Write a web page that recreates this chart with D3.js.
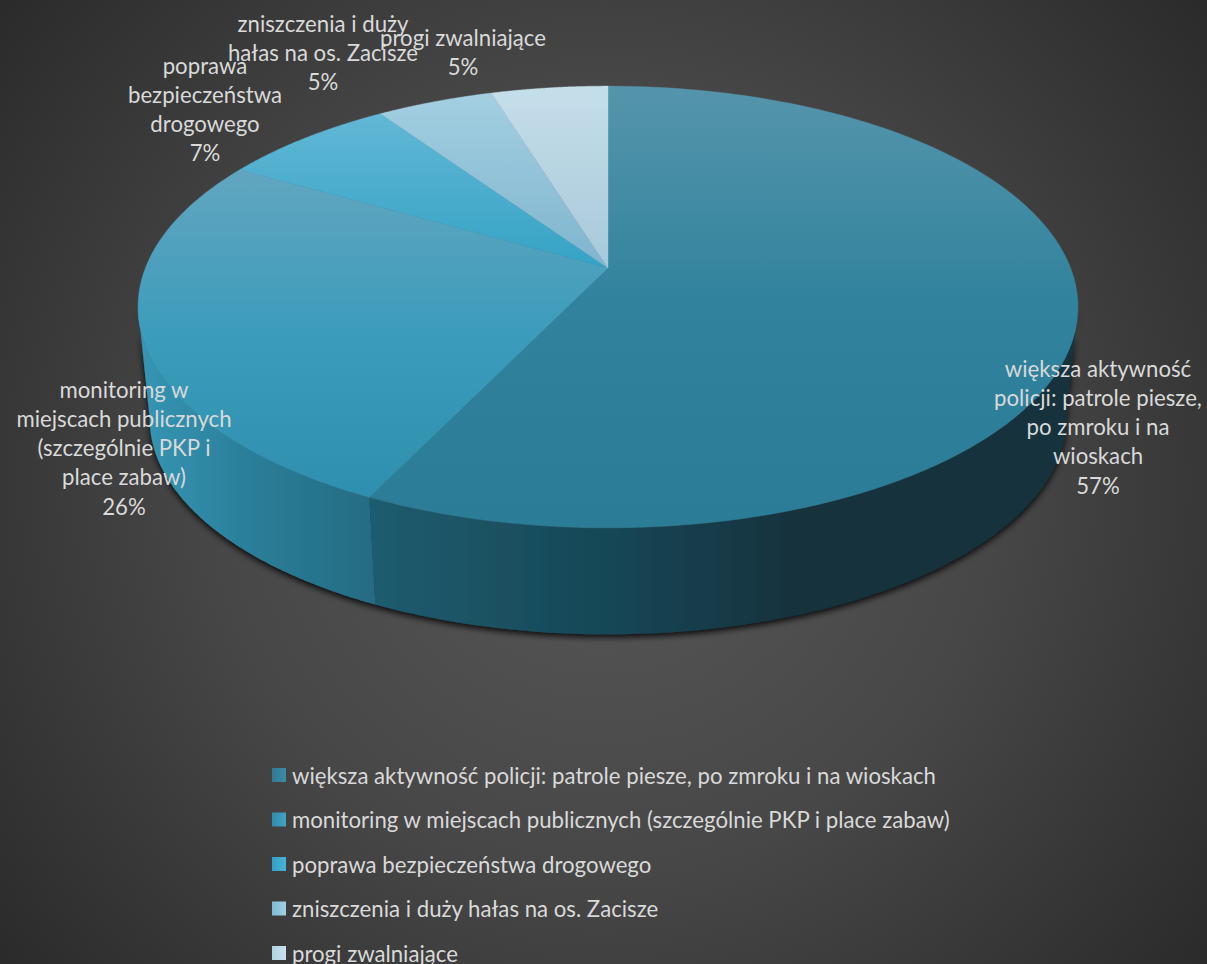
<!DOCTYPE html>
<html><head><meta charset="utf-8">
<script src="https://cdn.jsdelivr.net/npm/d3@7"></script>
<style>html,body{margin:0;padding:0;background:#333;overflow:hidden}svg{display:block}text{font-family:Lato,"Open Sans",sans-serif;fill:#d9d9d9}</style>
</head><body><script>
const categories=["większa aktywność policji: patrole piesze, po zmroku i na wioskach","monitoring w miejscach publicznych (szczególnie PKP i place zabaw)","poprawa bezpieczeństwa drogowego","zniszczenia i duży hałas na os. Zacisze","progi zwalniające"];
const counts=[24,11,3,2,2];
const labelLines=[["większa aktywność","policji: patrole piesze,","po zmroku i na","wioskach"],["monitoring w","miejscach publicznych","(szczególnie PKP i","place zabaw)"],["poprawa","bezpieczeństwa","drogowego"],["zniszczenia i duży","hałas na os. Zacisze"],["progi zwalniające"]];
const topColors=[["#5595ab","#30829d","#2b7c96"],["#62a6c0","#3c9cbb","#2e90ae"],["#62b7d5","#35a3c5"],["#a3cfe1","#7fb5ce"],["#c5dfea","#a8c8d9"]];
const sideStops=[[[0,"#1f5c6f"],[.32,"#174858"],[.6,"#12323d"],[1,"#12323d"]],[[0,"#3596b4"],[.5,"#2a7d98"],[1,"#256b82"]]];
const swatchColors=[["#2e7a92","#3a8ca8"],["#2f8cab","#43a3c3"],["#2fa0c4","#4ab3d6"],["#7dbbd4","#9fd0e3"],["#b0d3e3","#c8e2ee"]];
const labelAnchors=[[1098,368],[124,389],[205,65],[323,23],[463,37]];
const labelLineHeight=29.3;
const fontSize=22.2;

const W=1207,H=964,cx=608,cyTop=268,cyBot=381,A=462.6,B=214,k=0.1765,s=0.975;
const frontFrom=100.2*Math.PI/180,frontTo=259.8*Math.PI/180;
const svg=d3.select("body").append("svg").attr("width",W).attr("height",H);
const defs=svg.append("defs");
const bg=defs.append("radialGradient").attr("id","bg").attr("gradientUnits","userSpaceOnUse").attr("cx",W/2).attr("cy",H/2).attr("r",780);
bg.append("stop").attr("offset",0).attr("stop-color","#585858");
bg.append("stop").attr("offset",.5).attr("stop-color","#474747");
bg.append("stop").attr("offset",1).attr("stop-color","#2a2a2a");
svg.append("rect").attr("width",W).attr("height",H).attr("fill","url(#bg)");
const f=defs.append("filter").attr("id","sh").attr("x","-5%").attr("y","-5%").attr("width","110%").attr("height","115%");
f.append("feDropShadow").attr("dx",0).attr("dy",3).attr("stdDeviation",3).attr("flood-color","#000").attr("flood-opacity",.85);

const pie=d3.pie().sort(null).value(d=>d).startAngle(0).endAngle(2*Math.PI);
const arcs=pie(counts);
const total=d3.sum(counts);
const proj=(t,scale,cy)=>{const u=Math.sin(t),v=Math.cos(t),w=1+k*v;return [cx+scale*A*u/w,cy-scale*B*v/w];};
const line=d3.line();
const samples=(a,b)=>d3.range(0,121).map(i=>a+(b-a)*i/120);

arcs.forEach((d,i)=>{
  const g=defs.append("linearGradient").attr("id","top"+i).attr("x1",0).attr("y1",0).attr("x2",0).attr("y2",1);
  topColors[i].forEach((c,j,arr)=>g.append("stop").attr("offset",j/(arr.length-1)).attr("stop-color",c));
  const sw=defs.append("linearGradient").attr("id","sw"+i).attr("x1",0).attr("y1",0).attr("x2",1).attr("y2",0);
  swatchColors[i].forEach((c,j,arr)=>sw.append("stop").attr("offset",j/(arr.length-1)).attr("stop-color",c));
});
sideStops.forEach((st,i)=>{
  const h=defs.append("linearGradient").attr("id","side"+i).attr("x1",0).attr("y1",0).attr("x2",1).attr("y2",0);
  st.forEach(([o,c])=>h.append("stop").attr("offset",o).attr("stop-color",c));
});

// sides: only the front part of the rim is visible
const frontArcs=arcs.filter(d=>d.startAngle<frontTo && d.endAngle>frontFrom).map(d=>({a:Math.max(d.startAngle,frontFrom),b:Math.min(d.endAngle,frontTo)}));
const sides=svg.append("g").attr("filter","url(#sh)");
sides.selectAll("path").data(frontArcs).join("path")
  .attr("d",d=>{const ts=samples(d.a,d.b);
    return line(ts.map(t=>proj(t,1,cyTop)).concat(ts.slice().reverse().map(t=>proj(t,s,cyBot))))+"Z";})
  .attr("fill",(d,i)=>`url(#side${i})`);
// top face
svg.append("g").selectAll("path").data(arcs).join("path")
  .attr("d",d=>line([[cx,cyTop]].concat(samples(d.startAngle,d.endAngle).map(t=>proj(t,1,cyTop))))+"Z")
  .attr("fill",(d,i)=>`url(#top${i})`).attr("stroke",(d,i)=>`url(#top${i})`).attr("stroke-width",.4);
// data labels
const lab=svg.append("g").attr("font-size",fontSize).attr("text-anchor","middle");
arcs.forEach((d,i)=>{
  const g=lab.append("text").attr("transform",`translate(${labelAnchors[i]})`);
  const lines=labelLines[i].concat(d3.format(".0%")(d.value/total));
  lines.forEach((t,j)=>g.append("tspan").attr("x",0).attr("y",j*labelLineHeight).attr("dominant-baseline","central").text(t));
});
// legend
const legY=d3.scalePoint().domain(categories).range([775,953]);
const leg=svg.append("g").selectAll("g").data(categories).join("g").attr("transform",d=>`translate(272,${legY(d)})`);
leg.append("rect").attr("x",0).attr("y",-7).attr("width",14).attr("height",14).attr("fill",(d,i)=>`url(#sw${i})`);
leg.append("text").attr("x",20).attr("dominant-baseline","central").attr("font-size",fontSize).text(d=>d);
</script></body></html>
